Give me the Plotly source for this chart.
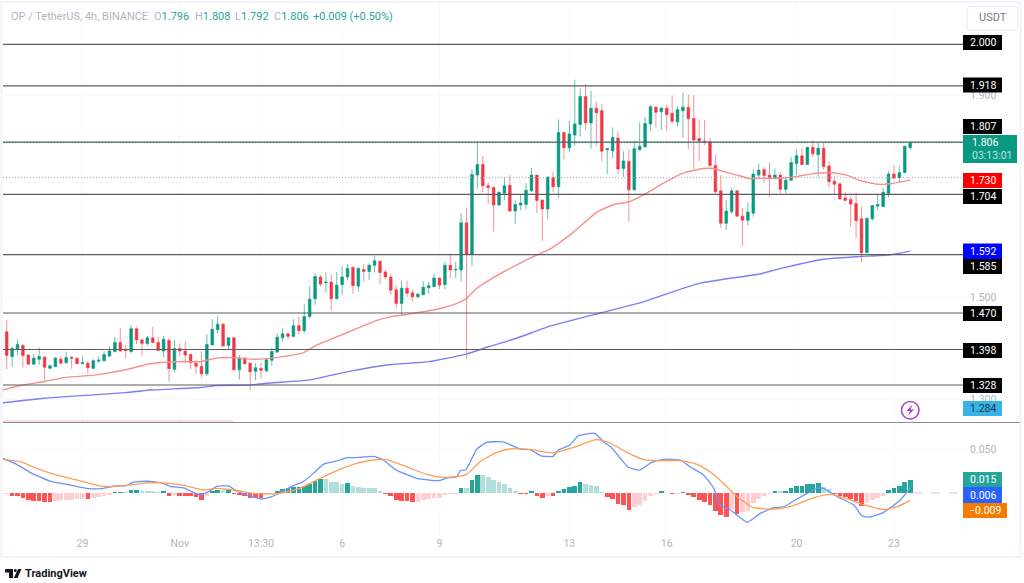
import plotly.graph_objects as go

W, H = 1024, 583

opens = [1.433,1.384,1.399,1.406,1.387,1.369,1.379,1.383,1.361,1.364,
 1.379,1.372,1.383,1.381,1.370,1.371,1.361,1.375,1.376,1.385,
 1.394,1.412,1.397,1.394,1.439,1.417,1.410,1.421,1.412,1.395,
 1.416,1.359,1.400,1.395,1.388,1.371,1.365,1.350,1.407,1.437,
 1.448,1.406,1.421,1.358,1.381,1.371,1.355,1.361,1.356,1.377,
 1.393,1.421,1.429,1.424,1.445,1.435,1.463,1.498,1.541,1.530,
 1.531,1.498,1.526,1.541,1.560,1.523,1.556,1.552,1.564,1.572,
 1.551,1.541,1.516,1.489,1.519,1.510,1.502,1.506,1.520,1.522,
 1.539,1.526,1.564,1.555,1.555,1.648,1.586,1.742,1.763,1.721,
 1.718,1.683,1.706,1.722,1.671,1.683,1.684,1.711,1.742,1.693,
 1.675,1.737,1.719,1.826,1.796,1.821,1.842,1.897,1.845,1.874,
 1.869,1.792,1.790,1.815,1.755,1.769,1.713,1.792,1.798,1.843,
 1.876,1.867,1.874,1.864,1.847,1.869,1.876,1.854,1.814,1.809,
 1.808,1.761,1.711,1.647,1.670,1.711,1.661,1.653,1.667,1.742,
 1.753,1.742,1.737,1.742,1.714,1.732,1.765,1.780,1.763,1.797,
 1.782,1.795,1.760,1.730,1.725,1.697,1.694,1.686,1.656,1.589,
 1.656,1.681,1.680,1.706,1.744,1.737,1.747,1.796]
highs = [1.456,1.404,1.418,1.409,1.389,1.389,1.402,1.384,1.369,1.383,
 1.385,1.394,1.384,1.382,1.385,1.376,1.379,1.384,1.395,1.405,
 1.423,1.440,1.407,1.446,1.442,1.420,1.425,1.443,1.423,1.425,
 1.421,1.417,1.410,1.414,1.391,1.377,1.394,1.428,1.458,1.464,
 1.450,1.422,1.423,1.387,1.383,1.372,1.371,1.372,1.379,1.401,
 1.430,1.440,1.430,1.458,1.463,1.487,1.523,1.548,1.545,1.550,
 1.546,1.551,1.563,1.567,1.562,1.560,1.567,1.568,1.583,1.573,
 1.555,1.548,1.524,1.534,1.534,1.516,1.510,1.533,1.532,1.548,
 1.540,1.570,1.584,1.571,1.667,1.678,1.754,1.808,1.780,1.727,
 1.719,1.710,1.738,1.742,1.692,1.703,1.726,1.756,1.742,1.693,
 1.740,1.749,1.852,1.827,1.849,1.930,1.913,1.922,1.908,1.886,
 1.882,1.794,1.836,1.829,1.789,1.793,1.810,1.846,1.857,1.880,
 1.878,1.877,1.880,1.899,1.878,1.905,1.901,1.900,1.852,1.851,
 1.815,1.783,1.742,1.693,1.717,1.711,1.677,1.688,1.753,1.765,
 1.757,1.767,1.755,1.748,1.739,1.778,1.793,1.795,1.797,1.811,
 1.805,1.806,1.769,1.740,1.726,1.709,1.700,1.707,1.679,1.658,
 1.683,1.704,1.716,1.749,1.762,1.759,1.799,1.808]
lows = [1.359,1.364,1.387,1.363,1.368,1.368,1.368,1.337,1.359,1.364,
 1.369,1.370,1.360,1.370,1.370,1.350,1.358,1.372,1.375,1.384,
 1.392,1.393,1.381,1.391,1.409,1.386,1.406,1.410,1.395,1.383,
 1.335,1.353,1.385,1.371,1.359,1.350,1.343,1.346,1.406,1.430,
 1.404,1.397,1.356,1.339,1.368,1.317,1.337,1.341,1.353,1.366,
 1.391,1.414,1.418,1.422,1.427,1.430,1.459,1.486,1.522,1.510,
 1.475,1.497,1.506,1.535,1.508,1.512,1.532,1.535,1.550,1.527,
 1.537,1.506,1.479,1.466,1.501,1.493,1.498,1.505,1.508,1.521,
 1.517,1.517,1.539,1.539,1.532,1.379,1.563,1.715,1.708,1.685,
 1.631,1.681,1.693,1.670,1.646,1.673,1.675,1.708,1.667,1.612,
 1.655,1.709,1.697,1.773,1.787,1.800,1.818,1.831,1.794,1.800,
 1.769,1.744,1.775,1.744,1.738,1.650,1.711,1.790,1.796,1.830,
 1.836,1.831,1.829,1.844,1.838,1.816,1.794,1.754,1.769,1.801,
 1.759,1.706,1.638,1.634,1.665,1.660,1.603,1.643,1.660,1.736,
 1.726,1.698,1.734,1.706,1.706,1.730,1.742,1.761,1.762,1.778,
 1.738,1.752,1.718,1.705,1.694,1.691,1.640,1.617,1.570,1.588,
 1.652,1.673,1.679,1.698,1.734,1.726,1.746,1.792]
closes = [1.386,1.400,1.408,1.386,1.369,1.381,1.384,1.363,1.366,1.381,
 1.371,1.382,1.381,1.370,1.372,1.362,1.376,1.377,1.388,1.395,
 1.412,1.395,1.396,1.439,1.417,1.410,1.421,1.412,1.396,1.418,
 1.360,1.400,1.395,1.387,1.372,1.365,1.350,1.408,1.438,1.448,
 1.405,1.421,1.358,1.381,1.370,1.354,1.362,1.357,1.378,1.394,
 1.422,1.429,1.424,1.445,1.435,1.463,1.497,1.542,1.527,1.531,
 1.498,1.525,1.541,1.558,1.524,1.558,1.552,1.564,1.573,1.550,
 1.541,1.515,1.489,1.519,1.509,1.502,1.507,1.521,1.524,1.539,
 1.525,1.564,1.555,1.556,1.648,1.586,1.743,1.763,1.721,1.717,
 1.683,1.708,1.721,1.671,1.684,1.687,1.712,1.742,1.692,1.675,
 1.738,1.719,1.826,1.796,1.823,1.843,1.897,1.845,1.874,1.865,
 1.789,1.794,1.816,1.754,1.770,1.713,1.794,1.799,1.844,1.877,
 1.866,1.874,1.861,1.848,1.871,1.876,1.853,1.811,1.809,1.807,
 1.761,1.709,1.647,1.671,1.711,1.661,1.653,1.669,1.744,1.752,
 1.741,1.737,1.742,1.714,1.732,1.767,1.780,1.763,1.797,1.784,
 1.795,1.759,1.729,1.724,1.695,1.692,1.685,1.652,1.589,1.657,
 1.682,1.684,1.708,1.744,1.736,1.747,1.799,1.806]

ema_x = [-0.7,2.5,7,11,16.6,22,26.5,31.4,35.7,38.8,41.8,45,48,51,54.7,57.2,63.3,68.3,70.7,74.4,79.3,83,84.9,86.7,89.2,
         96.1,100.7,104.7,109,112,115.2,117.7,121.4,125,128.8,130.6,132.5,135,137.4,139.9,142.4,145.4,148.5,152.2,155.3,157.8,160.9,163.3,167]
ema_y = [1.318,1.327,1.335,1.343,1.348,1.358,1.370,1.374,1.374,1.381,1.382,1.379,1.380,1.384,1.391,1.406,1.433,1.455,1.462,1.468,1.477,1.488,1.498,1.517,1.535,
         1.575,1.598,1.629,1.668,1.683,1.690,1.703,1.726,1.746,1.755,1.755,1.749,1.742,1.735,1.736,1.735,1.738,1.744,1.747,1.742,1.731,1.724,1.725,1.732]
ma_x = [-0.7,7,16.6,22,26.5,35.7,38.8,45,48.6,56,63.3,70.7,78,84.9,89.2,93,97,100.4,109.7,117,128.2,139.2,142.4,151,157,163.3,167]
ma_y = [1.293,1.302,1.309,1.313,1.318,1.323,1.327,1.328,1.332,1.338,1.355,1.368,1.374,1.389,1.404,1.416,1.431,1.444,1.470,1.490,1.529,1.547,1.556,1.576,1.581,1.585,1.592]

hist = [-0.0008,-0.0034,-0.0038,-0.0053,-0.0083,-0.0091,-0.0092,-0.0106,-0.0107,-0.0091,
 -0.0083,-0.0080,-0.0076,-0.0068,-0.0064,-0.0068,-0.0057,-0.0049,-0.0038,-0.0027,
 0.0008,0.0009,0.0007,0.0034,0.0035,0.0027,0.0026,0.0025,0.0004,0.0015,
 -0.0038,-0.0023,-0.0030,-0.0031,-0.0034,-0.0049,-0.0076,-0.0034,0.0015,0.0038,
 0.0030,0.0034,-0.0011,-0.0019,-0.0038,-0.0053,-0.0054,-0.0061,-0.0004,-0.0001,
 0.0023,0.0045,0.0057,0.0064,0.0068,0.0080,0.0106,0.0136,0.0159,0.0158,
 0.0129,0.0121,0.0098,0.0110,0.0076,0.0068,0.0061,0.0053,0.0052,0.0027,
 -0.0008,-0.0034,-0.0080,-0.0087,-0.0095,-0.0106,-0.0102,-0.0083,-0.0068,-0.0057,
 -0.0053,-0.0015,-0.0008,-0.0004,0.0061,0.0057,0.0152,0.0205,0.0204,0.0186,
 0.0148,0.0129,0.0106,0.0053,0.0023,-0.0008,-0.0009,0.0015,-0.0030,-0.0053,
 -0.0034,-0.0038,0.0027,0.0045,0.0068,0.0083,0.0125,0.0102,0.0091,0.0080,
 0.0004,-0.0045,-0.0064,-0.0121,-0.0140,-0.0189,-0.0159,-0.0136,-0.0091,-0.0038,
 -0.0011,0.0015,0.0000,-0.0008,-0.0004,0.0001,-0.0015,-0.0049,-0.0076,-0.0106,
 -0.0136,-0.0201,-0.0250,-0.0269,-0.0182,-0.0235,-0.0212,-0.0201,-0.0117,-0.0068,
 -0.0030,-0.0004,0.0019,0.0015,0.0027,0.0053,0.0080,0.0083,0.0098,0.0099,
 0.0110,0.0072,0.0045,-0.0004,-0.0030,-0.0045,-0.0068,-0.0091,-0.0148,-0.0110,
 -0.0083,-0.0061,-0.0030,0.0030,0.0053,0.0083,0.0121,0.0150]

macd_x = [-0.7,1.84,4.3,8,11.1,15.1,17.9,20,22.2,23.4,26.5,29,30.2,32.7,35.7,37.3,38.8,41,42.5,45,47.1,49,51.1,53,54.8,56.7,58.5,
          61.6,62.8,64.7,67.8,69.6,72,75.8,79.8,81.3,83.2,83.9,84.9,86.9,88.7,91.8,94.9,96.7,98.9,101,102,104.1,105.6,108.7,110.3,111.8,114.9,117,119.2,121.4,
          124.5,126.3,128.8,130.7,131.9,133.8,136.9,139.3,141.8,143.6,146.1,149.8,151,153.5,156.6,158.1,159.7,162.1,165.2,167]
macd_y = [.0394,.0326,.0235,.0136,.0098,.0049,.0053,.0080,.0083,.0125,.0133,.0110,.0076,.0057,-.0023,.0015,.0076,.0080,.0023,-.0034,-.0068,-.0042,.0023,.0083,.0129,.0223,.0326,
          .0375,.0402,.0402,.0417,.0375,.0261,.0167,.0140,.0170,.0186,.0258,.0265,.0500,.0576,.0580,.0500,.0492,.0420,.0417,.0489,.0545,.0648,.0678,.0583,.0515,.0292,.0261,.0348,.0383,
          .0375,.0299,.0205,.0053,-.0136,-.0193,-.0333,-.0231,-.0167,-.0159,-.0068,.0053,.0053,-.0042,-.0136,-.0261,-.0273,-.0220,-.0080,.0061]
signal_x = [-0.7,2.5,5.5,9.2,12.9,17.2,19.1,22.2,25.9,29,32.7,36.4,38.8,41.9,45.6,49.9,54.2,57.3,
            61.6,64.7,67.8,70.2,73.9,77.6,80.7,83.2,85,87.5,90.6,93,96.7,101,104.7,109,111.5,114.6,117.7,120.8,
            124.5,127.6,130,132.5,135,138,141.8,144.8,149.2,152.3,155.4,158.5,162.1,164.6,167]
signal_y = [.0379,.0356,.0280,.0205,.0148,.0080,.0072,.0087,.0114,.0114,.0087,.0034,.0053,.0034,-.0004,-.0011,.0053,.0148,
            .0269,.0337,.0375,.0379,.0299,.0212,.0178,.0186,.0212,.0356,.0462,.0500,.0496,.0455,.0515,.0606,.0568,.0462,.0383,.0367,
            .0371,.0326,.0242,.0110,-.0042,-.0167,-.0182,-.0155,-.0053,-.0015,-.0068,-.0136,-.0189,-.0155,-.0083]

levels = [2.000,1.918,1.807,1.704,1.585,1.470,1.398,1.328]
level_labels = ["2.000","1.918","1.807","1.704","1.585","1.470","1.398","1.328"]
level_label_rows = [42.5,85,126.5,196.5,266.5,313.5,350.5,385.5]
last_price = 1.806
dotted_price = 1.737
price_ticks = [1.3,1.5,1.9]
price_tick_text = ["1.300","1.500","1.900"]
macd_ticks = [0.05]
macd_tick_text = ["0.050"]
date_ticks = [14,32,47,62,80,104,122,146,164]
date_text = ["29","Nov","13:30","6","9","13","16","20","23"]

assert len(opens)==len(highs)==len(lows)==len(closes)==len(hist)==168

FONT = "Roboto"
GREY = "#b2b5be"
def px(x): return x/W
def py(y): return 1-y/H
PX_CANDLE = 5.41
X0 = 6.7
xrange_ = [-X0/PX_CANDLE, (966-X0)/PX_CANDLE]

idx = list(range(len(opens)))
fig = go.Figure()
fig.add_trace(go.Candlestick(x=idx, open=opens, high=highs, low=lows, close=closes,
    increasing=dict(line=dict(color="rgba(8,153,129,0.62)", width=1), fillcolor="#089981"),
    decreasing=dict(line=dict(color="rgba(242,54,69,0.55)", width=1), fillcolor="#F23645"),
    whiskerwidth=0, xaxis="x", yaxis="y", showlegend=False, hoverinfo="skip"))
fig.add_trace(go.Scatter(x=ema_x, y=ema_y, mode="lines", line=dict(color="#F98E8E", width=1.4, shape="spline", smoothing=0.5), xaxis="x", yaxis="y", hoverinfo="skip"))
fig.add_trace(go.Scatter(x=ma_x, y=ma_y, mode="lines", line=dict(color="#7D7DF5", width=1.4, shape="spline", smoothing=0.5), xaxis="x", yaxis="y", hoverinfo="skip"))

colors = []
for i, v in enumerate(hist):
    prev = hist[i-1] if i else v
    if v >= 0:
        colors.append("#26A69A" if v >= prev else "#B2DFDB")
    else:
        colors.append("#FFCDD2" if v >= prev else "#FF5252")
fig.add_trace(go.Bar(x=idx, y=hist, marker=dict(color=colors, line=dict(width=0)), width=0.86, xaxis="x2", yaxis="y2", hoverinfo="skip"))
fig.add_trace(go.Scatter(x=macd_x, y=macd_y, mode="lines", line=dict(color="#6A93FB", width=1.3, shape="spline", smoothing=0.4), xaxis="x2", yaxis="y2", hoverinfo="skip"))
fig.add_trace(go.Scatter(x=signal_x, y=signal_y, mode="lines", line=dict(color="#FF9D57", width=1.3, shape="spline", smoothing=0.5), xaxis="x2", yaxis="y2", hoverinfo="skip"))

shapes = []
annots = []
def box(x0, y0, x1, y1, fill):
    shapes.append(dict(type="rect", xref="paper", yref="paper", x0=px(x0), x1=px(x1), y0=py(y0), y1=py(y1),
                       fillcolor=fill, line=dict(width=0), layer="above"))
def text(x, y, s, color, size=10.5, anchor="left"):
    annots.append(dict(xref="paper", yref="paper", x=px(x), y=py(y), text=s, showarrow=False, xanchor=anchor, yanchor="middle",
                       font=dict(family=FONT, size=size, color=color), xshift=0, yshift=0, borderpad=0))
def seg(x0, y0, x1, y1, color, width=1, dash="solid"):
    shapes.append(dict(type="line", xref="paper", yref="paper", x0=px(x0), x1=px(x1), y0=py(y0), y1=py(y1),
                       line=dict(color=color, width=width, dash=dash), layer="above"))

# frame
shapes.append(dict(type="rect", xref="paper", yref="paper", x0=px(1.5), x1=px(1020.5), y0=py(2), y1=py(557),
                   line=dict(color="#F0F3FA", width=2), layer="below"))
seg(3, 421, 233, 421, "#F8B8BC", 1)
seg(3, 422.5, 1020, 422.5, "#8A8C92", 1.2)

# levels
for v in levels:
    shapes.append(dict(type="line", xref="paper", yref="y", x0=px(3), x1=px(963), y0=v, y1=v,
                       line=dict(color="#5C5C5C", width=1.2), layer="above"))
shapes.append(dict(type="line", xref="paper", yref="y", x0=px(3), x1=px(963), y0=dotted_price, y1=dotted_price,
                   line=dict(color="#A8A8A8", width=1, dash="1px,2px"), layer="above"))
shapes.append(dict(type="line", xref="paper", yref="y", x0=px(3), x1=px(963), y0=last_price, y1=last_price,
                   line=dict(color="#089981", width=1, dash="1px,2px"), layer="above"))
shapes.append(dict(type="line", xref="x2", yref="y2", x0=167.5, x1=xrange_[1], y0=0, y1=0,
                   line=dict(color="#C9CBD2", width=1, dash="dash"), layer="below"))

# price labels
for lab, row in zip(level_labels, level_label_rows):
    box(963, row-7.5, 1002, row+7.5, "#000000")
    text(982.5, row, lab, "#FFFFFF", anchor="center")
box(963, 135, 1017, 163, "#089981")
text(971, 142.5, "1.806", "#FFFFFF")
text(971, 155.5, "03:13:01", "#BFE6DF")
box(963, 173, 1002, 188, "#FF0000")
text(982.5, 180.5, "1.730", "#FFFFFF", anchor="center")
box(963, 243.5, 1002, 259, "#0000FF")
text(982.5, 251.5, "1.592", "#FFFFFF", anchor="center")
box(963, 401, 1002, 416, "#37B3E6")
text(982.5, 408.5, "1.284", "#1B3A4B", anchor="center")
box(963, 472, 1002, 487, "#26A69A")
text(982.5, 479.5, "0.015", "#FFFFFF", anchor="center")
box(963, 487, 1002, 503, "#2962FF")
text(982.5, 495, "0.006", "#FFFFFF", anchor="center")
box(963, 503, 1007, 518, "#F57C00")
text(985, 510.5, "\u22120.009", "#FFFFFF", anchor="center")

# header
text(10, 17, "OP / TetherUS, 4h, BINANCE", GREY, 11)
TEAL = "#26A69A"
for x, h, v in [(153,"O","1.796"),(194,"H","1.808"),(234,"L","1.792"),(273,"C","1.806")]:
    text(x, 17, f"{h}<span style='color:{TEAL}'>{v}</span>", GREY, 11)
text(312, 17, "+0.009 (+0.50%)", TEAL, 11)

# USDT button
shapes.append(dict(type="path", xref="paper", yref="paper", layer="above",
    path=f"M {px(970)} {py(6.5)} L {px(1015)} {py(6.5)} Q {px(1018)} {py(6.5)} {px(1018)} {py(9.5)} L {px(1018)} {py(27)} Q {px(1018)} {py(30)} {px(1015)} {py(30)} L {px(970)} {py(30)} Q {px(967)} {py(30)} {px(967)} {py(27)} L {px(967)} {py(9.5)} Q {px(967)} {py(6.5)} {px(970)} {py(6.5)} Z",
    fillcolor="#FFFFFF", line=dict(color="#E6E8EE", width=1)))
text(992.5, 18, "USDT", "#787B86", 11, "center")

# lightning badge
shapes.append(dict(type="circle", xref="paper", yref="paper", x0=px(901.5), x1=px(919), y0=py(401.5), y1=py(419),
                   line=dict(color="#AB47BC", width=1.5), layer="above"))
def poly(pts, fill):
    d = "M " + " L ".join(f"{px(a)} {py(b)}" for a, b in pts) + " Z"
    shapes.append(dict(type="path", xref="paper", yref="paper", path=d, fillcolor=fill, line=dict(width=0), layer="above"))
poly([(912.5,404.5),(906.5,411),(910,411),(908,416),(914,409.5),(910.5,409.5)], "#AB47BC")

# TradingView mark
poly([(5,569),(13,569),(13,578),(9,578),(9,572.5),(5,572.5)], "#131722")
poly([(18,569),(21.5,569),(17.5,578),(13.8,578)], "#131722")
shapes.append(dict(type="circle", xref="paper", yref="paper", x0=px(13.8), x1=px(16.8), y0=py(569), y1=py(572), fillcolor="#131722", line=dict(width=0), layer="above"))
annots.append(dict(xref="paper", yref="paper", x=px(23), y=py(573.5), text="<b>TradingView</b>", showarrow=False, xanchor="left", yanchor="middle",
                   font=dict(family=FONT, size=11, color="#131722")))

axis_common = dict(showline=False, zeroline=False, ticks="", fixedrange=True)
fig.update_layout(
    width=W, height=H, margin=dict(l=0, r=0, t=0, b=0), autosize=False,
    paper_bgcolor="#FFFFFF", plot_bgcolor="#FFFFFF", showlegend=False, barmode="overlay", bargap=0,
    font=dict(family=FONT, size=10.5, color=GREY),
    xaxis=dict(domain=[0, 966/W], range=xrange_, anchor="y", rangeslider=dict(visible=False), showticklabels=False,
               tickmode="array", tickvals=date_ticks, showgrid=True, gridcolor="#F8F9FC", **axis_common),
    yaxis=dict(domain=[py(422), 1], range=[1.9-327/507, 1.9+95/507], side="right", anchor="x", tickmode="array",
               tickvals=price_ticks, ticktext=price_tick_text, showgrid=True, gridcolor="#F8F9FC", ticklabelstandoff=3,
               tickfont=dict(family=FONT, size=10.5, color=GREY), **axis_common),
    xaxis2=dict(domain=[0, 966/W], range=xrange_, anchor="y2", tickmode="array", tickvals=date_ticks, ticktext=date_text,
                showgrid=True, gridcolor="#F8F9FC", tickfont=dict(family=FONT, size=10.5, color=GREY), **axis_common),
    yaxis2=dict(domain=[py(535), py(423)], range=[(493-535)/880, (493-423)/880], side="right", anchor="x2", tickmode="array",
                tickvals=macd_ticks, ticktext=macd_tick_text, showgrid=True, gridcolor="#F8F9FC", ticklabelstandoff=3,
                tickfont=dict(family=FONT, size=10.5, color=GREY), **axis_common),
    shapes=shapes, annotations=annots,
)
fig.write_html("out.html", config=dict(displayModeBar=False, responsive=False),
               post_script="document.body.style.margin='0';document.body.style.background='#fff';")
